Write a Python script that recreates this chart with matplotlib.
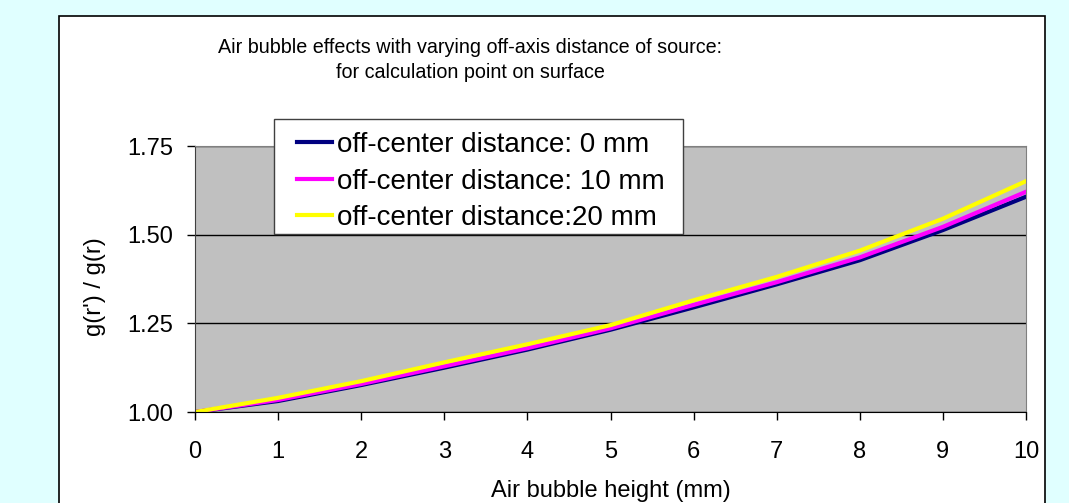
import numpy as np
import matplotlib.pyplot as plt
from matplotlib.patches import Rectangle

plt.rcParams['font.family'] = ['Liberation Sans', 'DejaVu Sans']

# air bubble height (mm)
height = [0, 1, 2, 3, 4, 5, 6, 7, 8, 9, 10]
# g(r') / g(r) for each off-center distance
off_0 = [1.000, 1.031, 1.076, 1.125, 1.176, 1.232, 1.295, 1.360, 1.428, 1.513, 1.607]
off_10 = [1.000, 1.034, 1.079, 1.129, 1.180, 1.236, 1.302, 1.366, 1.436, 1.522, 1.621]
off_20 = [1.000, 1.040, 1.087, 1.140, 1.191, 1.245, 1.315, 1.381, 1.455, 1.545, 1.651]
labels = ['off-center distance: 0 mm', 'off-center distance: 10 mm', 'off-center distance:20 mm']
yticks = [1.00, 1.25, 1.50, 1.75]

W, H = 1069, 503
fig = plt.figure(figsize=(W / 100, H / 100), dpi=100, facecolor='#E0FFFF')
# white chart area with black border
fig.patches.append(Rectangle((0.0552, -0.05), 0.9224, 1.018, transform=fig.transFigure,
                             facecolor='white', edgecolor='black', lw=1.2, zorder=-5))

ax = fig.add_axes([0.1824, 0.1809, 0.7774, 0.5288])
ax.set_facecolor('#C0C0C0')
ax.plot(height, off_0, color='#000080', lw=3, label=labels[0])
ax.plot(height, off_10, color='#FF00FF', lw=3, label=labels[1])
ax.plot(height, off_20, color='#FFFF00', lw=3, label=labels[2])

ax.set_xlim(0, 10)
ax.set_ylim(1.0, 1.75)
ax.set_xticks(height)
ax.set_yticks(yticks)
ax.set_yticklabels(['%.2f' % v for v in yticks])
ax.grid(axis='y', color='black', lw=1)
ax.set_axisbelow(True)
for s in ['top', 'right']:
    ax.spines[s].set_color('#808080')
ax.spines['left'].set_color('#404040')
ax.spines['bottom'].set_color('black')
ax.tick_params(labelsize=17, length=6, width=1, colors='black')
ax.tick_params(axis='y', pad=10)
ax.tick_params(axis='x', pad=15)

ax.set_xlabel('Air bubble height (mm)', fontsize=17)
ax.xaxis.set_label_coords(0.5, -0.296)
ax.xaxis.label.set_va('center')
ax.set_ylabel("g(r') / g(r)", fontsize=17)
ax.yaxis.set_label_coords(-0.1203, 0.47)
ax.yaxis.label.set_va('center')

fig.text(0.44, 0.8817, 'Air bubble effects with varying off-axis distance of source:\nfor calculation point on surface',
         ha='center', va='center', fontsize=14.2, linespacing=1.4)

# legend box drawn separately (Excel style: wider padding than matplotlib's)
ax.add_patch(Rectangle((274 / W, 1 - 234 / H), 409 / W, 115 / H, transform=fig.transFigure,
                       facecolor='white', edgecolor='#404040', lw=1, zorder=6, clip_on=False))
leg = ax.legend(loc='upper left', bbox_to_anchor=(297 / W, 1 - 132 / H), bbox_transform=fig.transFigure,
                borderaxespad=0, borderpad=0, fontsize=20, frameon=False,
                handlelength=1.26, handletextpad=0.18, labelspacing=0.38)
leg.set_zorder(7)

plt.savefig('out.png', dpi=100, facecolor=fig.get_facecolor())
